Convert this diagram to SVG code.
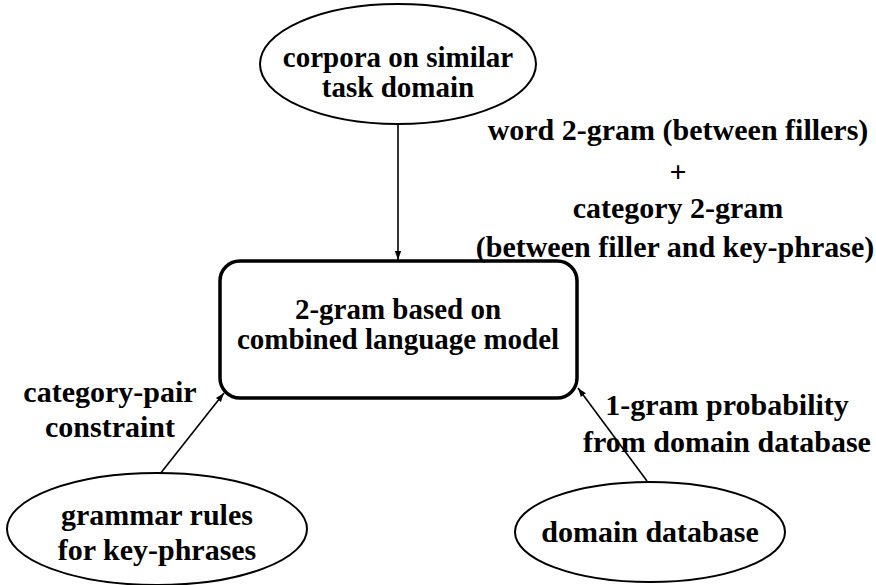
<svg xmlns="http://www.w3.org/2000/svg" width="876" height="585" viewBox="0 0 876 585">
  <style>
    text { font-family: "Liberation Serif", "Times New Roman", serif; font-weight: bold; font-size: 30px; fill: #000; text-anchor: middle; }
    .tight { font-size: 29px; }
    .node { fill: #fff; stroke: #000; stroke-width: 2; }
    .box { fill: #fff; stroke: #000; stroke-width: 3.5; }
    .edge { fill: none; stroke: #000; stroke-width: 1.6; }
  </style>
  <defs>
    <marker id="arrow" viewBox="0 0 10 10" refX="10" refY="5" markerWidth="9" markerHeight="9" markerUnits="userSpaceOnUse" orient="auto">
      <path d="M0,1.5 L10,5 L0,8.5 Z" fill="#000"/>
    </marker>
  </defs>
  <rect width="876" height="585" fill="#fff"/>

  <g id="connectors">
    <line class="edge" x1="398" y1="124" x2="398" y2="260" marker-end="url(#arrow)"/>
    <line class="edge" x1="160" y1="474" x2="224" y2="393" marker-end="url(#arrow)"/>
    <line class="edge" x1="647" y1="481" x2="578" y2="388" marker-end="url(#arrow)"/>
  </g>

  <g id="corpora">
    <ellipse class="node" cx="398" cy="64" rx="138" ry="60"/>
    <text class="tight" x="398" y="67">corpora on similar</text>
    <text class="tight" x="398" y="97">task domain</text>
  </g>

  <g id="model">
    <rect class="box" x="220" y="261" width="357" height="137" rx="20" ry="20"/>
    <text class="tight" x="398" y="319">2-gram based on</text>
    <text class="tight" x="398" y="349">combined language model</text>
  </g>

  <g id="grammar">
    <ellipse class="node" cx="157" cy="529" rx="150" ry="56"/>
    <text x="157" y="525">grammar rules</text>
    <text x="157" y="560">for key-phrases</text>
  </g>

  <g id="database">
    <ellipse class="node" cx="650" cy="532" rx="135" ry="50"/>
    <text x="650" y="542">domain database</text>
  </g>

  <g id="labels">
    <text x="678" y="140">word 2-gram (between fillers)</text>
    <text x="678" y="182">+</text>
    <text x="678" y="218">category 2-gram</text>
    <text x="675" y="257">(between filler and key-phrase)</text>
    <text x="110" y="402">category-pair</text>
    <text x="110" y="437">constraint</text>
    <text x="727" y="415">1-gram probability</text>
    <text x="727" y="452">from domain database</text>
  </g>
</svg>
